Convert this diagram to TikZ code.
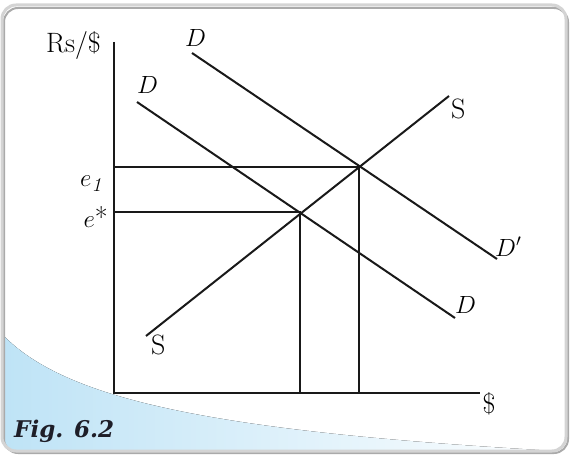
\documentclass[tikz,border=0pt]{standalone}
\usepackage{fontspec}
\newfontfamily\figfont{DejaVu Serif}
\usetikzlibrary{positioning}
\definecolor{PanelBlue}{RGB}{190,227,246}
\definecolor{FrameGray}{RGB}{212,212,212}
\definecolor{ShadeGray}{RGB}{170,170,170}
\definecolor{FigInk}{RGB}{30,30,40}

\begin{document}
\begin{tikzpicture}[
        x=1pt, y=-1pt,
        font=\fontsize{24}{28}\selectfont,
        curve/.style={line width=2pt, black!90},
        lbl/.style={inner sep=0pt, anchor=base west},
        rlbl/.style={lbl, font=\fontsize{28}{32}\selectfont},
        elbl/.style={inner sep=0pt, anchor=base east, font=\fontsize{28}{32}\selectfont}
    ]
    \useasboundingbox (0,0) rectangle (573,457);
    % panel and blue corner
    \begin{scope}
        \clip[rounded corners=14pt] (2,5) rectangle (566,451);
        \fill[left color=PanelBlue, middle color=PanelBlue, right color=white]
            (0,332) .. controls (60,397) and (200,432) .. (575,452) -- (0,460) -- cycle;
    \end{scope}
    \draw[ShadeGray, line width=2pt, rounded corners=14pt] (4,8) rectangle (568,453);
    \draw[FrameGray, line width=3pt, rounded corners=14pt] (2,5) rectangle (566,451);

    % axes and curves
    \coordinate (O) at (114,393);
    \coordinate (ytop) at (114,42);
    \coordinate (xend) at (480,393);
    \coordinate (estar) at (300,212);
    \coordinate (eone) at (359,167);
    \coordinate (Da) at (137,102);
    \coordinate (Db) at (455,318);
    \coordinate (Dpa) at (192,53);
    \coordinate (Dpb) at (497,259);
    \coordinate (Sa) at (146,336);
    \coordinate (Sb) at (449,96);

    \draw[curve] (ytop) -- (O) -- (xend);
    \draw[curve] (O |- eone) -- (eone) -- (eone |- O);
    \draw[curve] (O |- estar) -- (estar) -- (estar |- O);
    \draw[curve] (Da) -- (Db);
    \draw[curve] (Dpa) -- (Dpb);
    \draw[curve] (Sa) -- (Sb);

    % labels
    \node[rlbl, anchor=base east] (yname) at (101,53) {Rs/\$};
    \node[rlbl, anchor=center] (xname) at (489,404) {\$};
    \node[lbl] (Dptop) at (185,47) {$D$};
    \node[lbl] (Dtop) at (137,94) {$D$};
    \node[lbl] (Dpbot) at (495,256) {$D'$};
    \node[lbl] (Dbot) at (455,313) {$D$};
    \node[rlbl] (Stop) at (451,119) {S};
    \node[rlbl] (Sbot) at (151,354) {S};
    \node[elbl] (eonelbl) at (102,187) {$e_{\mathit{1}}$};
    \node[elbl] (estarlbl) at (108,228) {$e$*};
    \node[lbl, font=\figfont\bfseries\itshape\fontsize{23}{27}\selectfont, text=FigInk] (fig) at (14,437) {Fig. 6.2};
\end{tikzpicture}
\end{document}
